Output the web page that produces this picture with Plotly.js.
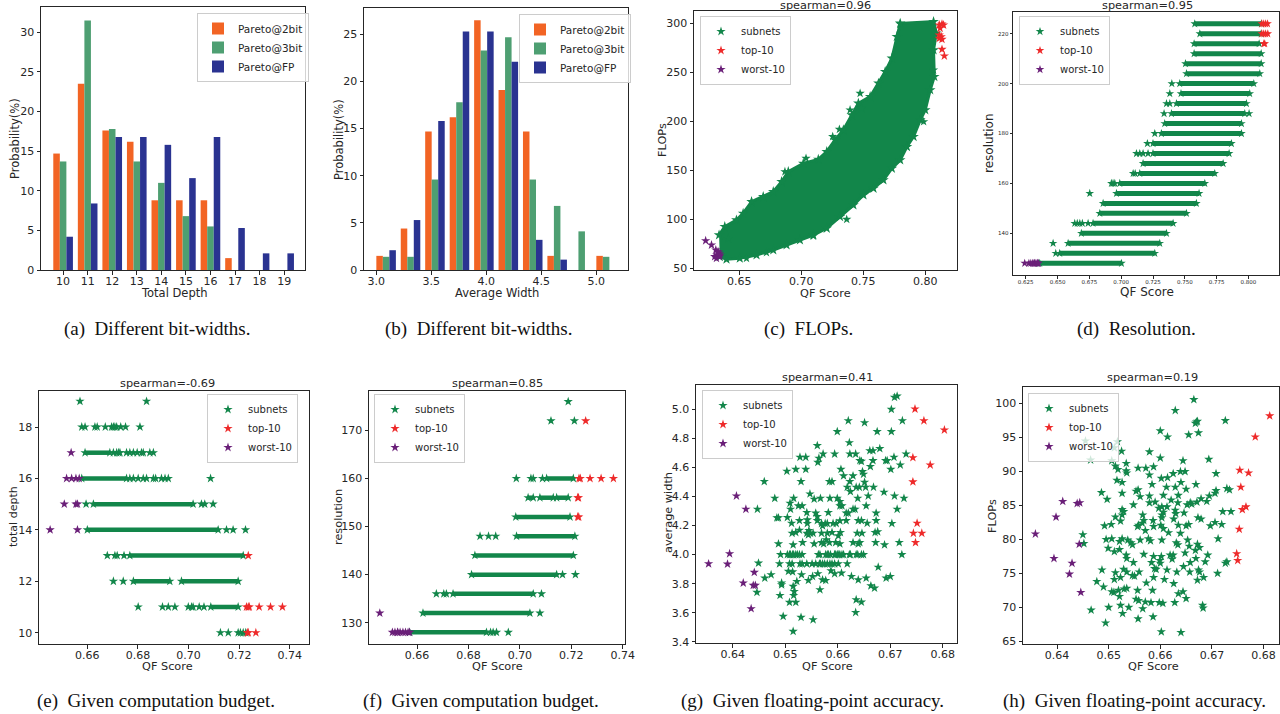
<!DOCTYPE html>
<html><head><meta charset="utf-8">
<script src="https://cdn.plot.ly/plotly-3.0.1.min.js"></script>
<style>html,body{margin:0;padding:0;background:#fff}#chart{width:1280px;height:714px}</style>
</head><body><div id="chart"></div>
<script>
// ---------- DATA ----------
// (a) total depth histogram (%)
const depthCats = [10, 11, 12, 13, 14, 15, 16, 17, 18, 19];
const depth2bit = [14.7, 23.5, 17.6, 16.2, 8.8, 8.8, 8.8, 1.5, 0, 0];
const depth3bit = [13.7, 31.5, 17.8, 13.7, 11.0, 6.8, 5.5, 0, 0, 0];
const depthFP   = [4.2, 8.4, 16.8, 16.8, 15.8, 11.6, 16.8, 5.3, 2.1, 2.1];
// (b) average width histogram (%)
const widthBins = [3.089, 3.311, 3.533, 3.756, 3.978, 4.200, 4.422, 4.644, 4.867, 5.089];
const width2bit = [1.5, 4.4, 14.7, 16.2, 26.5, 19.1, 14.7, 1.5, 0, 1.5];
const width3bit = [1.4, 1.4, 9.6, 17.8, 23.3, 24.7, 9.6, 6.8, 4.1, 1.4];
const widthFP   = [2.1, 5.3, 15.8, 25.3, 25.3, 22.1, 3.2, 1.1, 0, 0];
const barNames = ['Pareto@2bit', 'Pareto@3bit', 'Pareto@FP'];
const scatNames = ['subnets', 'top-10', 'worst-10'];

// (c) FLOPs vs QF score: outline of the dense cloud + separate stars
const cCloudQF = [0.6338,0.6384,0.6478,0.6532,0.6600,0.6694,0.6775,0.6842,0.6896,0.7017,0.7138,0.7206,0.7273,0.7340,0.7408,0.7461,0.7556,0.7623,0.7677,0.7731,0.7771,0.7798,0.8067,
                  0.8089,0.8067,0.8073,0.8040,0.8000,0.7960,0.7906,0.7852,0.7798,0.7731,0.7663,0.7583,0.7502,0.7421,0.7313,0.7206,0.7098,0.6990,0.6882,0.6775,0.6640,0.6505,0.6398,0.6344];
const cCloudFLOPs = [84.0,92.5,99.3,106.1,118.0,123.1,128.2,138.4,148.6,157.1,161.2,169.0,181.0,191.2,206.5,218.4,225.2,238.8,250.7,264.3,286.4,300.0,301.7,
                     289.8,272.8,245.6,232.0,211.6,201.4,184.4,174.1,160.5,152.0,140.1,131.6,124.8,114.6,102.7,90.8,84.0,78.9,73.8,68.7,63.6,60.2,59.2,61.9];
const cSubQF    = [0.7475,0.7394,0.7488,0.7308,0.7254,0.7039,0.6869,0.6600,0.6559,0.7367,0.7098,0.7987,0.7852,0.8067,0.7798,0.6412,0.6720];
const cSubFLOPs = [228.6,211.6,213.3,191.8,184.4,162.2,148.6,118.0,60.2,100.0,83.0,199.7,174.1,252.4,299.3,80.5,66.0];
const cTopQF    = [0.8113,0.8135,0.8148,0.8113,0.8129,0.8135,0.8113,0.8135,0.8154,0.8120];
const cTopFLOPs = [298.3,299.3,298.3,288.0,286.4,283.7,284.7,273.5,266.7,295.0];
const cWorstQF    = [0.6230,0.6277,0.6312,0.6303,0.6320,0.6338,0.6317,0.6340,0.6330,0.6346];
const cWorstFLOPs = [78.2,73.8,68.7,62.0,63.6,65.3,60.2,62.0,67.0,63.6];

// (d) resolution vs QF score: QF range of each resolution row
const dRes = [224,220,216,212,208,204,200,196,192,188,184,180,176,172,168,164,160,156,152,148,144,140,136,132,128];
const dMin = [0.7578,0.7618,0.7573,0.7573,0.7505,0.7513,0.7460,0.7470,0.7434,0.7395,0.7342,0.7316,0.7250,0.7250,0.7172,0.7146,0.6989,0.6963,0.6858,0.6832,0.6779,0.6687,0.6583,0.6517,0.6360];
const dMax = [0.8102,0.8100,0.8084,0.8100,0.8100,0.8089,0.8042,0.8010,0.7984,0.7971,0.7945,0.7945,0.7866,0.7848,0.7801,0.7735,0.7657,0.7612,0.7591,0.7513,0.7408,0.7356,0.7303,0.7264,0.7002];
const dSubQF  = [0.7398,0.7382,0.7356,0.7382,0.7337,0.8005,0.7264,0.7206,0.7120,0.7146,0.7172,0.7211,0.7094,0.7110,0.6923,0.6936,0.6950,0.6753,0.6635,0.6655,0.6675,0.6695,0.6740,0.6465,0.6486];
const dSubRes = [200,196,192,192,188,188,180,176,172,172,172,172,164,164,160,160,160,156,144,144,144,144,144,136,132];
const dTopQF  = [0.8105,0.8120,0.8135,0.8150,0.8105,0.8120,0.8135,0.8152,0.8121,0.8128];
const dTopRes = [224,224,224,224,220,220,220,220,216,216];
const dWorstQF  = [0.6242,0.6275,0.6290,0.6305,0.6315,0.6320,0.6330,0.6340,0.6345,0.6350];
const dWorstRes = [128,128,128,128,128,128,128,128,128,128];

// (e) total depth vs QF score (given budget)
const eSegDepth = [17, 16, 15, 14, 13, 12, 12, 11];
const eSegFrom  = [0.6591, 0.6578, 0.6624, 0.6600, 0.6768, 0.6782, 0.6972, 0.7088];
const eSegTo    = [0.6689, 0.6755, 0.7018, 0.7117, 0.7216, 0.6926, 0.7196, 0.7196];
const eSubQF = [0.6571,0.6834,
  0.6578,0.6591,0.6630,0.6639,0.6671,0.6696,0.6703,0.6709,0.6716,0.6732,0.6751,0.6808,
  0.6703,0.6716,0.6724,0.6729,0.6755,0.6768,0.6782,0.6797,0.6814,0.6821,0.6847,0.6861,
  0.6768,0.6782,0.6801,0.6821,0.6834,0.6861,0.6870,0.6893,0.6907,0.6920,0.7087,
  0.6595,0.7051,0.7064,0.7097,
  0.7150,0.7176,0.7225,
  0.6679,0.6709,0.6718,0.6745,
  0.6703,0.6742,
  0.6801,0.6897,0.6920,0.6946,0.6999,0.7012,0.7018,0.7042,0.7061,
  0.7126,0.7157,0.7196,0.7205,0.7216,0.7226];
const eSubDepth = [19,19,
  18,18,18,18,18,18,18,18,18,18,18,18,
  17,17,17,17,17,17,17,17,17,17,17,17,
  16,16,16,16,16,16,16,16,16,16,16,
  15,15,15,15,
  14,14,14,
  13,13,13,13,
  12,12,
  11,11,11,11,11,11,11,11,11,
  10,10,10,10,10,10];
const eTopQF    = [0.7236,0.7229,0.7236,0.7279,0.7324,0.7371,0.7232,0.7236,0.7266,0.7240];
const eTopDepth = [13,11,11,11,11,11,10,10,10,11];
const eWorstQF    = [0.6536,0.6518,0.6538,0.6555,0.6568,0.6509,0.6555,0.6561,0.6453,0.6561];
const eWorstDepth = [17,16,16,16,16,15,15,15,14,14];

// (f) resolution vs QF score (given budget)
const fSegRes  = [160, 156, 156, 156, 152, 148, 144, 140, 136, 132, 128];
const fSegFrom = [0.7104, 0.7032, 0.7078, 0.7143, 0.6984, 0.6987, 0.6825, 0.6812, 0.6740, 0.6623, 0.6571];
const fSegTo   = [0.7208, 0.7052, 0.7130, 0.7188, 0.7195, 0.7214, 0.7208, 0.7143, 0.7052, 0.7039, 0.6870];
const fSubQF  = [0.7188, 0.7121,0.7212, 0.6986,0.7043,0.7052,0.7088, 0.6845,0.6878,0.6906, 0.7166,0.7216, 0.6675,0.6704,0.6714,0.7084, 0.7078, 0.6886,0.6896,0.6909,0.6955];
const fSubRes = [176, 172,172, 160,160,160,160, 148,148,148, 140,140, 136,136,136,136, 132, 128,128,128,128];
const fTopQF  = [0.7256,0.7230,0.7235,0.7273,0.7316,0.7364,0.7225,0.7228,0.7225,0.7229];
const fTopRes = [172,160,160,160,160,160,156,156,152,152];
const fWorstQF  = [0.6455,0.6504,0.6514,0.6524,0.6534,0.6545,0.6555,0.6565,0.6571,0.6525];
const fWorstRes = [132,128,128,128,128,128,128,128,128,128];

// (g) average width vs QF score (given FP accuracy), [QF, width]
const gSubnets = [
 [0.6708,5.080],[0.6713,5.089],[0.6702,4.998],[0.6620,4.920],[0.6651,4.906],[0.6723,4.920],[0.6599,4.845],[0.6675,4.845],[0.6702,4.845],
 [0.6561,4.749],[0.6622,4.769],[0.6661,4.714],[0.6680,4.728],[0.6667,4.714],[0.6572,4.691],[0.6594,4.691],[0.6623,4.691],[0.6634,4.691],[0.6730,4.691],
 [0.6528,4.669],[0.6539,4.669],[0.6564,4.662],[0.6707,4.669],[0.6694,4.646],[0.6642,4.646],[0.6645,4.641],[0.6667,4.646],[0.6691,4.646],[0.6719,4.616],[0.6662,4.605],
 [0.6503,4.573],[0.6520,4.586],[0.6539,4.586],[0.6606,4.586],[0.6647,4.570],[0.6701,4.586],[0.6562,4.634],[0.6629,4.541],[0.6649,4.552],[0.6611,4.541],
 [0.6460,4.502],[0.6530,4.502],[0.6584,4.502],[0.6589,4.502],[0.6623,4.502],[0.6618,4.463],[0.6635,4.463],[0.6641,4.463],[0.6668,4.463],[0.6653,4.463],
 [0.6688,4.429],[0.6624,4.433],[0.6651,4.497],[0.6480,4.387],[0.6516,4.387],[0.6567,4.387],[0.6585,4.387],[0.6599,4.387],[0.6708,4.403],[0.6658,4.403],
 [0.6638,4.387],[0.6726,4.387],[0.6547,4.417],[0.6555,4.381],[0.6509,4.353],[0.6604,4.365],[0.6447,4.312],[0.6525,4.335],[0.6532,4.335],[0.6604,4.335],
 [0.6608,4.335],[0.6629,4.312],[0.6654,4.335],[0.6713,4.312],[0.6510,4.312],[0.6620,4.285],[0.6633,4.312],[0.6541,4.289],[0.6558,4.285],[0.6561,4.262],
 [0.6582,4.289],[0.6616,4.285],[0.6673,4.285],[0.6484,4.253],[0.6487,4.253],[0.6504,4.255],[0.6527,4.234],[0.6542,4.239],[0.6561,4.234],[0.6512,4.216],
 [0.6542,4.214],[0.6569,4.214],[0.6576,4.214],[0.6580,4.214],[0.6591,4.214],[0.6597,4.214],[0.6604,4.232],[0.6616,4.234],[0.6639,4.234],[0.6645,4.234],
 [0.6656,4.216],[0.6673,4.234],[0.6703,4.214],[0.6571,4.198],[0.6513,4.147],[0.6520,4.152],[0.6527,4.168],[0.6541,4.147],[0.6545,4.166],[0.6548,4.147],
 [0.6553,4.147],[0.6569,4.147],[0.6580,4.147],[0.6589,4.152],[0.6605,4.152],[0.6637,4.147],[0.6646,4.147],[0.6671,4.152],[0.6676,4.157],[0.6544,4.136],
 [0.6601,4.129],[0.6578,4.102],[0.6487,4.074],[0.6515,4.067],[0.6533,4.083],[0.6555,4.074],[0.6569,4.083],[0.6573,4.074],[0.6584,4.083],[0.6596,4.083],
 [0.6604,4.074],[0.6629,4.083],[0.6639,4.074],[0.6642,4.083],[0.6672,4.083],[0.6689,4.067],[0.6717,4.083],
 [0.6491,4.0],[0.6504,4.0],[0.6508,4.0],[0.6510,4.0],[0.6514,4.0],[0.6516,4.0],[0.6520,4.0],[0.6523,4.0],[0.6527,4.0],[0.6532,4.0],
 [0.6563,4.0],[0.6566,4.0],[0.6577,4.0],[0.6580,4.0],[0.6582,4.0],[0.6586,4.0],[0.6594,4.0],[0.6596,4.0],[0.6599,4.0],[0.6602,4.0],
 [0.6604,4.0],[0.6608,4.0],[0.6611,4.0],[0.6622,4.0],[0.6624,4.0],[0.6635,4.0],[0.6638,4.0],[0.6645,4.0],[0.6649,4.0],[0.6722,4.0],
 [0.6449,3.942],[0.6489,3.937],[0.6508,3.937],[0.6513,3.937],[0.6528,3.937],[0.6532,3.937],[0.6541,3.937],[0.6551,3.937],[0.6558,3.937],[0.6565,3.937],
 [0.6567,3.937],[0.6571,3.937],[0.6575,3.937],[0.6580,3.937],[0.6585,3.937],[0.6589,3.937],[0.6594,3.937],[0.6601,3.937],[0.6618,3.937],
 [0.6677,3.914],[0.6506,3.885],[0.6514,3.882],[0.6531,3.862],[0.6587,3.889],[0.6607,3.873],[0.6461,3.839],[0.6473,3.862],[0.6552,3.850],[0.6562,3.869],
 [0.6571,3.827],[0.6594,3.869],[0.6626,3.850],[0.6639,3.827],[0.6654,3.839],[0.6692,3.839],[0.6700,3.850],[0.6493,3.805],[0.6522,3.816],[0.6544,3.823],
 [0.6577,3.823],[0.6493,3.793],[0.6515,3.782],[0.6446,3.741],[0.6663,3.786],[0.6670,3.770],[0.6517,3.747],[0.6566,3.759],[0.6490,3.720],[0.6516,3.720],
 [0.6508,3.672],[0.6520,3.672],[0.6635,3.690],[0.6645,3.674],[0.6634,3.603],[0.6496,3.576],[0.6530,3.569],[0.6553,3.553],[0.6515,3.473]];
const gTop = [[0.6747,5.000],[0.6764,4.920],[0.6803,4.856],[0.6743,4.666],[0.6776,4.616],[0.6743,4.500],[0.6751,4.216],[0.6744,4.147],[0.6760,4.147],[0.6748,4.083]];
const gWorst = [[0.6354,3.937],[0.6394,4.006],[0.6390,3.935],[0.6407,4.403],[0.6425,4.312],[0.6441,3.878],[0.6420,3.805],[0.6439,3.789],[0.6443,3.789],[0.6435,3.629]];

// (h) FLOPs vs QF score (given FP accuracy), [QF, FLOPs]
const hSubnets = [
 [0.6665,100.6],[0.6629,99.0],[0.6726,97.5],[0.6668,97.1],[0.6670,97.3],[0.6672,97.4],[0.6600,96.0],[0.6674,95.7],[0.6655,95.4],[0.6614,95.1],
 [0.6455,94.5],[0.6517,94.4],[0.6511,93.5],[0.6525,93.0],[0.6579,92.9],[0.6465,91.7],[0.6600,92.0],[0.6506,91.6],[0.6644,91.6],[0.6694,91.8],
 [0.6534,91.2],[0.6513,90.8],[0.6587,90.7],[0.6557,90.5],[0.6572,90.5],[0.6518,90.3],[0.6534,90.1],[0.6535,89.8],[0.6625,89.7],[0.6602,89.0],
 [0.6614,89.1],[0.6639,90.0],[0.6648,90.0],[0.6708,89.7],[0.6579,89.5],[0.6516,88.7],[0.6526,88.4],[0.6584,88.1],[0.6612,87.7],[0.6629,87.7],
 [0.6640,88.4],[0.6669,88.1],[0.6486,86.9],[0.6526,86.8],[0.6553,87.1],[0.6557,87.3],[0.6650,87.4],[0.6708,87.2],[0.6729,87.5],[0.6734,87.3],
 [0.6706,86.8],[0.6561,86.3],[0.6579,86.4],[0.6606,86.5],[0.6635,86.5],[0.6497,85.9],[0.6579,85.4],[0.6590,85.5],[0.6621,85.8],[0.6658,85.4],
 [0.6661,85.2],[0.6679,86.0],[0.6690,85.6],[0.6695,86.4],[0.6548,85.1],[0.6603,84.8],[0.6613,84.8],[0.6634,85.4],[0.6671,85.5],[0.6526,84.4],
 [0.6529,84.1],[0.6597,84.6],[0.6629,84.3],[0.6652,85.1],[0.6737,84.1],[0.6721,84.1],[0.6513,83.3],[0.6526,83.6],[0.6566,83.6],[0.6603,83.6],
 [0.6606,84.0],[0.6630,83.8],[0.6646,83.9],[0.6673,83.2],[0.6679,83.0],[0.6523,82.7],[0.6568,82.8],[0.6586,82.8],[0.6603,83.2],[0.6626,83.0],
 [0.6505,82.2],[0.6558,82.1],[0.6565,82.4],[0.6601,82.1],[0.6635,82.1],[0.6650,82.0],[0.6655,82.2],[0.6697,82.0],[0.6706,82.5],[0.6719,82.2],
 [0.6492,82.0],[0.6606,81.6],[0.6616,81.0],[0.6639,80.9],[0.6556,81.9],[0.6571,81.3],[0.6587,81.9],[0.6450,80.7],[0.6452,79.4],[0.6495,80.0],
 [0.6506,80.1],[0.6499,78.7],[0.6526,80.1],[0.6521,79.7],[0.6511,78.2],[0.6521,78.5],[0.6537,79.9],[0.6543,79.5],[0.6546,79.2],[0.6561,79.9],
 [0.6577,80.1],[0.6581,79.8],[0.6603,79.9],[0.6631,79.5],[0.6634,79.2],[0.6653,79.9],[0.6656,79.0],[0.6672,79.3],[0.6676,78.8],[0.6712,80.1],
 [0.6534,77.7],[0.6535,77.2],[0.6548,76.6],[0.6568,77.8],[0.6587,77.5],[0.6602,77.5],[0.6619,77.7],[0.6625,77.7],[0.6648,78.0],[0.6668,78.4],
 [0.6692,77.7],[0.6599,76.9],[0.6600,76.5],[0.6623,77.1],[0.6583,76.6],[0.6658,76.6],[0.6669,77.2],[0.6687,76.7],[0.6726,76.5],[0.6729,76.7],
 [0.6487,75.5],[0.6513,75.1],[0.6529,75.6],[0.6535,75.2],[0.6546,74.7],[0.6550,74.6],[0.6559,75.2],[0.6589,75.7],[0.6592,75.6],[0.6613,75.5],
 [0.6632,75.2],[0.6645,76.0],[0.6657,75.2],[0.6674,75.5],[0.6676,75.2],[0.6711,75.0],[0.6477,73.8],[0.6511,74.1],[0.6523,74.4],[0.6573,73.6],
 [0.6587,74.4],[0.6608,74.1],[0.6626,73.5],[0.6672,74.0],[0.6684,74.4],[0.6490,73.0],[0.6506,72.3],[0.6510,72.2],[0.6519,72.5],[0.6521,71.6],
 [0.6530,72.7],[0.6535,72.8],[0.6556,72.5],[0.6585,72.5],[0.6635,72.0],[0.6644,72.3],[0.6553,71.2],[0.6558,71.0],[0.6571,70.8],[0.6582,70.7],
 [0.6598,70.7],[0.6605,70.6],[0.6628,70.7],[0.6650,71.3],[0.6466,69.6],[0.6500,70.0],[0.6523,70.3],[0.6527,69.1],[0.6539,70.0],[0.6566,69.8],
 [0.6586,68.6],[0.6682,70.3],[0.6683,69.9],[0.6494,67.7],[0.6557,68.3],[0.6602,66.4],[0.6640,66.3]];
const hTop = [[0.6812,98.2],[0.6784,95.1],[0.6754,90.2],[0.6771,89.8],[0.6756,87.7],[0.6759,84.4],[0.6766,84.8],[0.6753,81.5],[0.6748,77.9],[0.6750,76.9]];
const hWorst = [[0.6358,80.8],[0.6394,77.2],[0.6398,83.3],[0.6411,85.6],[0.6429,76.5],[0.6424,74.9],[0.6439,85.3],[0.6444,85.4],[0.6443,79.3],[0.6446,72.2]];

const titles = ['spearman=0.96','spearman=0.95','spearman=-0.69','spearman=0.85','spearman=0.41','spearman=0.19'];
const captions = ['(a)  Different bit-widths.','(b)  Different bit-widths.','(c)  FLOPs.','(d)  Resolution.',
                  '(e)  Given computation budget.','(f)  Given computation budget.','(g)  Given floating-point accuracy.','(h)  Given floating-point accuracy.'];

// ---------- STYLE / LAYOUT HELPERS ----------
const W = 1280, H = 714;
const FONT = 'DejaVu Sans';
const INK = '#262626';
const BAR_COLORS = ['#F26424', '#4E9F72', '#2A3391'];
const C_SUB = '#12864A', C_TOP = '#EE2A2A', C_WORST = '#6A1F78';
const px = v => v / W, py = v => 1 - v / H;

function axis(dom, range, extra, tickSize) {
  return Object.assign({
    domain: dom, range: range,
    showline: true, mirror: true, linecolor: INK, linewidth: 1,
    ticks: 'outside', ticklen: 3.5, tickwidth: 1, tickcolor: INK,
    showgrid: false, zeroline: false, fixedrange: true,
    tickfont: {family: FONT, size: tickSize || 11, color: INK}
  }, extra);
}
function xdom(a, b) { return [px(a), px(b)]; }
function ydom(top, bot) { return [py(bot), py(top)]; }

const layout = {
  width: W, height: H, margin: {l: 0, r: 0, t: 0, b: 0},
  paper_bgcolor: '#fff', plot_bgcolor: '#fff', showlegend: true,
  barmode: 'group', bargap: 0.2, bargroupgap: 0,
  font: {family: FONT, color: INK},
  annotations: [], shapes: []
};
const boxes = [
  // [xLeft, xRight, yTop, yBottom]
  [41, 305, 7, 270], [364, 628, 8, 270], [694, 957, 11, 270], [1013, 1279, 12, 275],
  [39, 309, 391, 644], [369, 625, 391, 644], [696, 957, 385, 643], [1023, 1279, 387, 644]
];
const xr = [[9.1, 19.85], [2.888, 5.288], [0.6136, 0.8256], [0.615, 0.824], [0.6409, 0.7476], [0.6413, 0.7409], [0.633, 0.6827], [0.6334, 0.683]];
const yr = [[0, 33.2], [0, 27.8], [48.3, 312.6], [123.3, 228.7], [9.56, 19.4], [125.57, 178.2], [3.393, 5.165], [64.6, 102.45]];
const xt = [
  {tickmode: 'linear', tick0: 10, dtick: 1},
  {tickmode: 'linear', tick0: 3, dtick: 0.5, tickformat: '.1f'},
  {tickmode: 'linear', tick0: 0.65, dtick: 0.05, tickformat: '.2f'},
  {tickmode: 'linear', tick0: 0.625, dtick: 0.025, tickformat: '.3f'},
  {tickmode: 'linear', tick0: 0.66, dtick: 0.02, tickformat: '.2f'},
  {tickmode: 'linear', tick0: 0.66, dtick: 0.02, tickformat: '.2f'},
  {tickmode: 'linear', tick0: 0.64, dtick: 0.01, tickformat: '.2f'},
  {tickmode: 'linear', tick0: 0.64, dtick: 0.01, tickformat: '.2f'}
];
const yt = [
  {tickmode: 'linear', tick0: 0, dtick: 5},
  {tickmode: 'linear', tick0: 0, dtick: 5},
  {tickmode: 'linear', tick0: 50, dtick: 50},
  {tickmode: 'linear', tick0: 140, dtick: 20},
  {tickmode: 'linear', tick0: 10, dtick: 2},
  {tickmode: 'linear', tick0: 130, dtick: 10},
  {tickmode: 'linear', tick0: 3.4, dtick: 0.2, tickformat: '.1f'},
  {tickmode: 'linear', tick0: 65, dtick: 5}
];
for (let i = 0; i < 8; i++) {
  const b = boxes[i], n = i === 0 ? '' : String(i + 1);
  const small = i === 3;
  const ts = small ? 5.5 : 11;
  const tl = small ? 2.5 : 3.5;
  layout['xaxis' + n] = axis(xdom(b[0], b[1]), xr[i], Object.assign({anchor: 'y' + n, ticklen: tl, ticklabelstandoff: small ? -1 : -3}, xt[i]), ts);
  layout['yaxis' + n] = axis(ydom(b[2], b[3]), yr[i], Object.assign({anchor: 'x' + n, ticklen: tl}, yt[i]), ts);
}

// legends
const legendBoxes = [[197, 13, 10.5], [519, 14, 10.5], [700, 16, 10], [1019, 16, 10], [207, 394, 10], [374, 394, 10], [702, 390, 10], [1028, 393, 10]];
legendBoxes.forEach((lb, i) => {
  layout['legend' + (i === 0 ? '' : i + 1)] = {
    x: px(lb[0]), y: py(lb[1]), xanchor: 'left', yanchor: 'top', xref: 'paper', yref: 'paper',
    bgcolor: 'rgba(255,255,255,0.8)', bordercolor: '#cccccc', borderwidth: 1,
    font: {family: FONT, size: lb[2], color: INK}, tracegroupgap: 0, itemwidth: 30, traceorder: 'normal'
  };
});

// annotations: axis titles, subplot titles, captions
function ann(text, x, y, size, opts) {
  layout.annotations.push(Object.assign({text: text, x: px(x), y: py(y), xref: 'paper', yref: 'paper',
    showarrow: false, xanchor: 'center', yanchor: 'middle', font: {family: FONT, size: size, color: INK}}, opts || {}));
}
const xTitles = [['Total Depth', 174, 293, 11.5], ['Average Width', 497, 293, 11.5], ['QF Score', 825, 293, 11.3], ['QF Score', 1147, 292, 12],
                 ['QF Score', 167, 666, 11.3], ['QF Score', 497, 666, 11.3], ['QF Score', 827, 666, 11.3], ['QF Score', 1153, 666, 11.3]];
const yTitles = [['Probability(%)', 15, 139, 11.5], ['Probability(%)', 339, 140, 11.5], ['FLOPs', 663, 140, 11.3], ['resolution', 989, 143, 12],
                 ['total depth', 13, 517, 11], ['resolution', 338, 517, 11.3], ['average width', 668, 513, 11.3], ['FLOPs', 992, 516, 11.3]];
xTitles.forEach(t => ann(t[0], t[1], t[2], t[3]));
yTitles.forEach(t => ann(t[0], t[1], t[2], t[3], {textangle: -90}));
const titlePos = [[825, 5.5], [1147, 5.5], [167, 383], [497, 383], [827, 377], [1152, 377]];
titles.forEach((t, i) => ann(t, titlePos[i][0], titlePos[i][1], 11.3));
const capPos = [[157, 329], [479, 329], [808, 329], [1136, 329], [156, 701], [481, 701], [812, 701], [1134, 701]];
captions.forEach((c, i) => ann(c, capPos[i][0], capPos[i][1], 19, {font: {family: 'Liberation Serif', size: 19, color: '#111'}}));

// ---------- TRACES ----------
const traces = [];
function bars(xs, series, ax, legend) {
  series.forEach((s, k) => traces.push({
    type: 'bar', x: xs, y: s, name: barNames[k], xaxis: 'x' + ax, yaxis: 'y' + ax, legend: legend,
    marker: {color: BAR_COLORS[k], line: {width: 0}}, hoverinfo: 'x+y'
  }));
}
bars(depthCats, [depth2bit, depth3bit, depthFP], '', 'legend');
bars(widthBins, [width2bit, width3bit, widthFP], '2', 'legend2');

function stars(x, y, ax, legend, name, color, size, show) {
  traces.push({type: 'scatter', mode: 'markers', x: x, y: y, name: name, xaxis: 'x' + ax, yaxis: 'y' + ax,
    legend: legend, showlegend: show !== false, marker: {symbol: 'star', size: size, color: color, line: {width: 0}}});
}
function segTrace(ys, x0, x1, ax, width, size) {
  const X = [], Y = [];
  for (let i = 0; i < ys.length; i++) { X.push(x0[i], x1[i], null); Y.push(ys[i], ys[i], null); }
  traces.push({type: 'scatter', mode: 'lines+markers', x: X, y: Y, xaxis: 'x' + ax, yaxis: 'y' + ax, showlegend: false,
    connectgaps: false, line: {color: C_SUB, width: width}, marker: {symbol: 'star', size: size, color: C_SUB}, hoverinfo: 'skip'});
}
function split(pairs) { return [pairs.map(p => p[0]), pairs.map(p => p[1])]; }

// (c)
traces.push({type: 'scatter', mode: 'lines+markers', x: cCloudQF, y: cCloudFLOPs, fill: 'toself', fillcolor: C_SUB,
  line: {color: C_SUB, width: 3}, marker: {symbol: 'star', size: 8, color: C_SUB},
  xaxis: 'x3', yaxis: 'y3', showlegend: false, hoverinfo: 'skip'});
stars(cSubQF, cSubFLOPs, '3', 'legend3', scatNames[0], C_SUB, 7);
stars(cTopQF, cTopFLOPs, '3', 'legend3', scatNames[1], C_TOP, 7);
stars(cWorstQF, cWorstFLOPs, '3', 'legend3', scatNames[2], C_WORST, 7);
// (d)
segTrace(dRes, dMin, dMax, '4', 5, 6.5);
stars(dSubQF, dSubRes, '4', 'legend4', scatNames[0], C_SUB, 6.5);
stars(dTopQF, dTopRes, '4', 'legend4', scatNames[1], C_TOP, 6.5);
stars(dWorstQF, dWorstRes, '4', 'legend4', scatNames[2], C_WORST, 6.5);
// (e)
segTrace(eSegDepth, eSegFrom, eSegTo, '5', 4.5, 7);
stars(eSubQF, eSubDepth, '5', 'legend5', scatNames[0], C_SUB, 7);
stars(eTopQF, eTopDepth, '5', 'legend5', scatNames[1], C_TOP, 7);
stars(eWorstQF, eWorstDepth, '5', 'legend5', scatNames[2], C_WORST, 7);
// (f)
segTrace(fSegRes, fSegFrom, fSegTo, '6', 4.5, 7);
stars(fSubQF, fSubRes, '6', 'legend6', scatNames[0], C_SUB, 7);
stars(fTopQF, fTopRes, '6', 'legend6', scatNames[1], C_TOP, 7);
stars(fWorstQF, fWorstRes, '6', 'legend6', scatNames[2], C_WORST, 7);
// (g)
stars(...split(gSubnets), '7', 'legend7', scatNames[0], C_SUB, 7);
stars(...split(gTop), '7', 'legend7', scatNames[1], C_TOP, 7);
stars(...split(gWorst), '7', 'legend7', scatNames[2], C_WORST, 7);
// (h)
stars(...split(hSubnets), '8', 'legend8', scatNames[0], C_SUB, 7);
stars(...split(hTop), '8', 'legend8', scatNames[1], C_TOP, 7);
stars(...split(hWorst), '8', 'legend8', scatNames[2], C_WORST, 7);

Plotly.newPlot('chart', traces, layout, {staticPlot: true, displayModeBar: false});
</script>
</body></html>
